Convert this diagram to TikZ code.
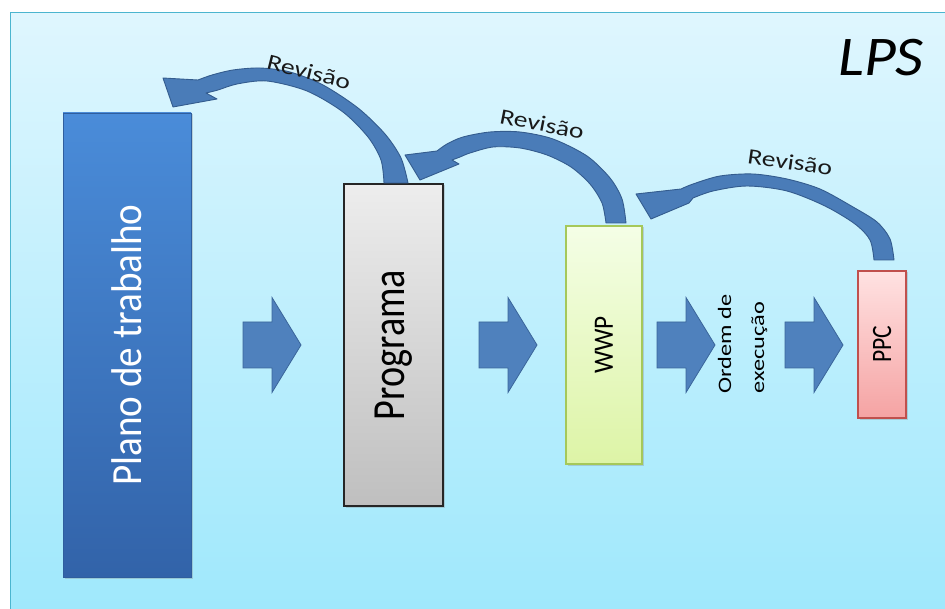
\documentclass[tikz,border=0pt]{standalone}
\usepackage{fontspec}
\setmainfont{Carlito}
\usetikzlibrary{shadows}

\definecolor{panelTop}{HTML}{DFF6FE}
\definecolor{panelBot}{HTML}{9EE8FC}
\definecolor{panelEdge}{HTML}{4BB5CF}
\definecolor{arrowFill}{HTML}{4F81BD}
\definecolor{arrowEdge}{HTML}{3A659A}
\definecolor{curveFill}{HTML}{4A7CB8}
\definecolor{curveEdge}{HTML}{345C8E}
\definecolor{planoTop}{HTML}{4A8CD9}
\definecolor{planoBot}{HTML}{3263A9}
\definecolor{planoEdge}{HTML}{2F5E9E}
\definecolor{progTop}{HTML}{EDEDED}
\definecolor{progBot}{HTML}{BFBFBF}
\definecolor{wwpTop}{HTML}{F4FEE6}
\definecolor{wwpBot}{HTML}{DDF4A6}
\definecolor{wwpEdge}{HTML}{A5C85A}
\definecolor{ppcTop}{HTML}{FFE2E2}
\definecolor{ppcBot}{HTML}{F5A3A3}
\definecolor{ppcEdge}{HTML}{C0504D}

\tikzset{
  stagebox/.style={inner sep=0pt, line width=1.2pt,
    drop shadow={shadow xshift=1.5pt, shadow yshift=-1.5pt, opacity=0.3}},
  blockarrow/.style={fill=arrowFill, draw=arrowEdge, line width=0.8pt, line join=miter},
  curvearrow/.style={fill=curveFill, draw=curveEdge, line width=0.9pt, line join=round},
  revlabel/.style={inner sep=0pt, text=black!90, font=\fontsize{22}{24}\selectfont},
  blockarr/.pic={\draw[blockarrow] (0,-23) -- (29,-23) -- (29,-47.5) -- (58,0)
      -- (29,47.5) -- (29,23) -- (0,23) -- cycle;}
}

\begin{document}
\begin{tikzpicture}[x=1pt,y=-1pt]
\useasboundingbox (0,0) rectangle (945,609);
\fill[white] (0,0) rectangle (945,609);

% light blue panel
\path[top color=panelTop, bottom color=panelBot, draw=panelEdge, line width=1pt]
  (10.5,12.5) rectangle (962,622);

% stages
\node[stagebox, top color=planoTop, bottom color=planoBot, draw=planoEdge, line width=0.6pt,
  minimum width=128pt, minimum height=464pt, text=white,
  font=\fontsize{43}{46}\selectfont] (plano) at (127,345)
  {\rotatebox{90}{\scalebox{0.91}[1]{Plano de trabalho}}};

\node[stagebox, top color=progTop, bottom color=progBot, draw=black!85,
  minimum width=99pt, minimum height=322pt,
  font=\fontsize{46}{48}\selectfont] (prog) at (393.5,345)
  {\rotatebox{90}{\scalebox{0.83}[1]{Programa}}};

\node[stagebox, top color=wwpTop, bottom color=wwpBot, draw=wwpEdge,
  minimum width=76pt, minimum height=238pt,
  font=\fontsize{28}{30}\selectfont] (wwp) at (604,345)
  {\rotatebox{90}{\scalebox{0.9}[1]{WWP}}};

\node[stagebox, top color=ppcTop, bottom color=ppcBot, draw=ppcEdge,
  minimum width=48pt, minimum height=147pt,
  font=\fontsize{28}{30}\selectfont] (ppc) at (882,344.5)
  {\rotatebox{90}{\scalebox{0.84}[1]{PPC}}};

\node[inner sep=0pt, font=\fontsize{19}{33}\selectfont] (ordem) at (741,344)
  {\rotatebox{90}{\scalebox{1.28}[1]{\begin{tabular}{@{}l@{}}Ordem de\\execução\end{tabular}}}};

% forward block arrows
\pic at (243,345) {blockarr};
\pic at (479,345) {blockarr};
\pic at (657,345) {blockarr};
\pic at (785,345) {blockarr};

% revision arrows
\draw[curvearrow]
  plot[smooth] coordinates {(408,183) (401,158) (385,134) (358,108) (323,85) (290,72)
    (260,68) (233,70) (212,75) (198,80)}
  -- (163,78) -- (173,107) -- (217,99) -- (206,93)
  -- plot[smooth] coordinates {(206,93) (218,90) (237,84) (267,81) (307,91) (343,112)
    (368,137) (381,160) (384,183)}
  -- cycle;

\draw[curvearrow]
  plot[smooth] coordinates {(626,223) (622,199) (610,178) (587,156) (553,139) (520,132)
    (490,132) (463,137) (447,144) (437,151)}
  -- (405,155) -- (420,180) -- (459,164) -- (452,160)
  -- plot[smooth] coordinates {(452,160) (460,157) (470,153) (493,147) (520,148)
    (547,155) (571,167) (590,184) (602,203) (606,223)}
  -- cycle;

\draw[curvearrow]
  plot[smooth] coordinates {(894,260) (890,239) (877,222) (853,207) (820,189) (787,179)
    (753,174) (720,176) (693,184) (681,189)}
  -- (636,194) -- (651,219) -- (689,203) -- (693,198)
  -- plot[smooth] coordinates {(693,198) (713,191) (747,186) (787,191) (825,206)
    (855,224) (870,240) (874,260)}
  -- cycle;

\node[revlabel, rotate=-14] (revA) at (309,72) {\scalebox{1.25}[1]{Revisão}};
\node[revlabel, rotate=-11] (revB) at (542,124) {\scalebox{1.25}[1]{Revisão}};
\node[revlabel, rotate=-8] (revC) at (790,162) {\scalebox{1.25}[1]{Revisão}};

% title
\node[inner sep=0pt, anchor=base west, font=\fontsize{56}{60}\selectfont\itshape] (lps)
  at (838,76) {\scalebox{1.1}[1]{LPS}};
\end{tikzpicture}
\end{document}
